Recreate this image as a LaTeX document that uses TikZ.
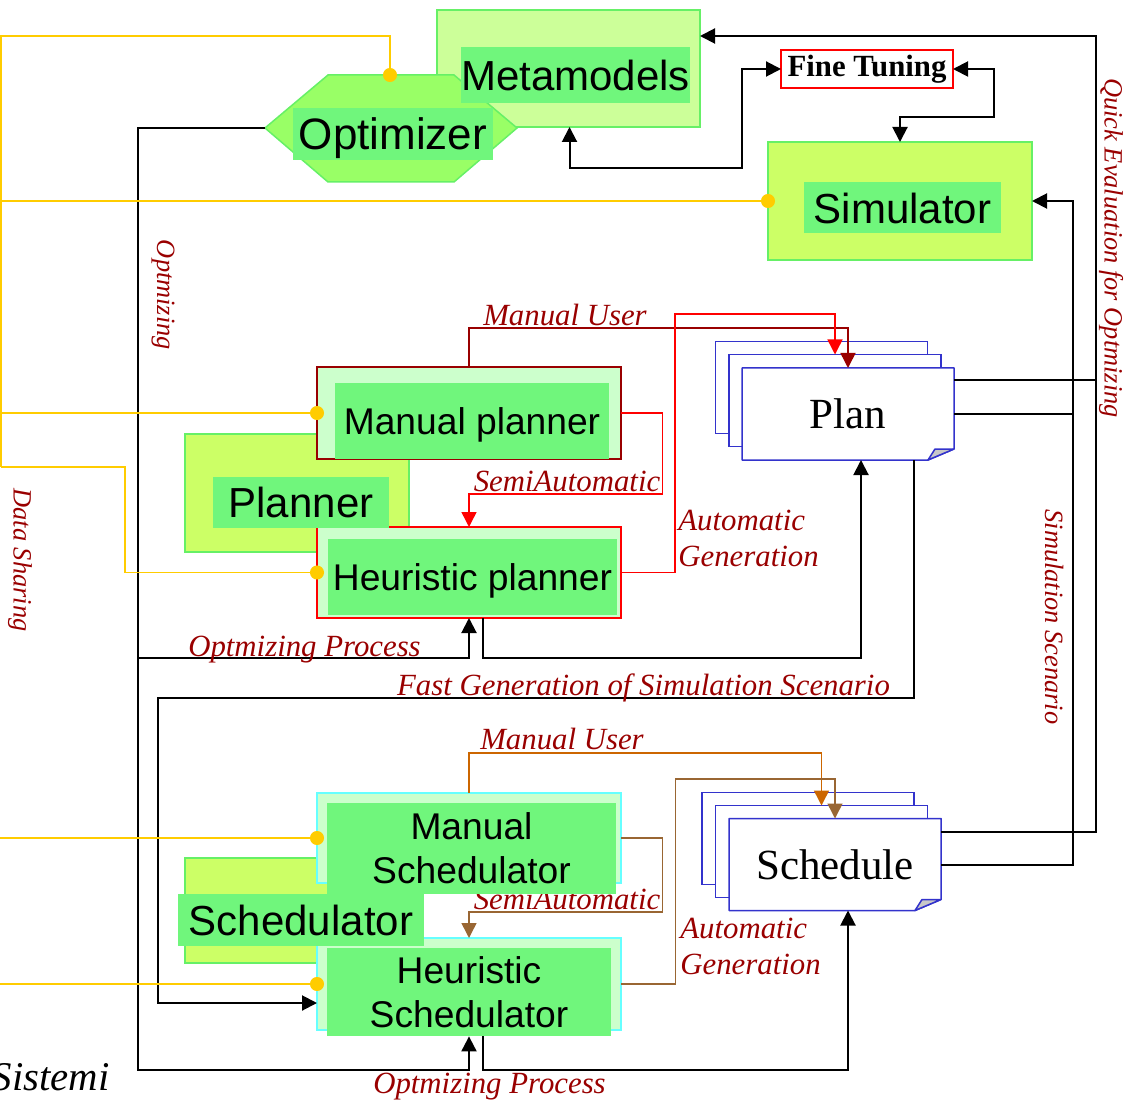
\documentclass[tikz,border=0pt]{standalone}
\usepackage{fontspec}
\setmainfont{Liberation Serif}
\newfontfamily\arialfont{Liberation Sans}
\usetikzlibrary{arrows.meta,positioning}

\definecolor{verdechiaro}{RGB}{204,255,153}
\definecolor{giallverde}{RGB}{204,255,102}
\definecolor{verdeesag}{RGB}{153,255,102}
\definecolor{verdetag}{RGB}{112,246,124}
\definecolor{menta}{RGB}{204,255,204}
\definecolor{bordo}{RGB}{102,240,102}
\definecolor{ciano}{RGB}{102,255,255}
\definecolor{giallo}{RGB}{255,204,0}
\definecolor{rossoscuro}{RGB}{153,0,0}
\definecolor{rosso}{RGB}{255,0,0}
\definecolor{docblu}{RGB}{51,51,204}
\definecolor{arancio}{RGB}{204,102,0}
\definecolor{marrone}{RGB}{153,102,51}
\definecolor{grigio}{RGB}{200,200,200}

\begin{document}
\begin{tikzpicture}[x=0.5pt,y=-0.5pt,>={Triangle[length=7.5pt,width=7.5pt]}]
  \tikzstyle{box}=[draw=bordo,line width=0.75pt,inner sep=0pt,outer sep=0pt]
  \tikzstyle{tag}=[fill=verdetag,inner sep=0pt,align=center,text depth=0pt,font=\arialfont\fontsize{21}{24}\selectfont]
  \tikzstyle{tagp}=[tag,font=\arialfont\fontsize{18.6}{22}\selectfont]
  \tikzstyle{sheet}=[draw=docblu,fill=white,line width=0.75pt,minimum width=106pt,minimum height=46pt,inner sep=0pt,outer sep=0pt,font=\fontsize{21.5}{24}\selectfont]
  \tikzstyle{docline}=[draw=docblu,line width=0.75pt,line join=round]
  \tikzstyle{lab}=[text=rossoscuro,inner sep=1pt,font=\itshape\fontsize{15.4}{18}\selectfont]
  \tikzstyle{vlab}=[lab,rotate=-90,font=\itshape\fontsize{13.2}{15}\selectfont]
  \tikzstyle{flow}=[line width=1pt,->]
  \tikzstyle{cflow}=[line width=0.75pt,->]
  \tikzstyle{share}=[draw=giallo,line width=0.75pt,-{Circle[length=7pt]},shorten >=-3.5pt]

  \useasboundingbox (0,0) rectangle (1124,1101);

  % metamodels, optimizer, simulator
  \node[box,fill=verdechiaro,minimum width=131.5pt,minimum height=58.5pt] (meta) at (568.5,68.5) {};
  \draw[draw=bordo,line width=0.75pt,fill=verdeesag] (265,128) -- (328,75) -- (454,75) -- (517,128) -- (454,182) -- (328,182) -- cycle;
  \coordinate (optW) at (265,128);
  \coordinate (optN) at (390,75);
  \node[tag,minimum width=114.5pt,minimum height=28pt] (metatag) at (575.5,75) {Metamodels};
  \node[tag,minimum width=100pt,minimum height=26pt,font=\arialfont\fontsize{22}{25}\selectfont] (opt) at (393,134) {Optimizer};
  \node[box,draw=rosso,fill=white,minimum width=86pt,minimum height=19pt,font=\bfseries\fontsize{15.4}{18}\selectfont] (fine) at (867,69) {Fine Tuning};
  \node[box,fill=giallverde,minimum width=132pt,minimum height=59pt] (sim) at (900,201) {};
  \node[tag,minimum width=98.5pt,minimum height=25.5pt] (simtag) at (902.5,208) {Simulator};

  % planner
  \node[box,fill=giallverde,minimum width=112pt,minimum height=59pt] (pln) at (297,493) {};
  \node[box,draw=rossoscuro,fill=menta,minimum width=152pt,minimum height=46pt] (mplan) at (469,413) {};
  \node[tagp,minimum width=137pt,minimum height=38pt] (mplantag) at (472,421) {Manual planner};
  \node[box,draw=rosso,fill=menta,minimum width=152pt,minimum height=45.5pt] (hplan) at (469,572.5) {};
  \node[tagp,minimum width=144.5pt,minimum height=38pt] (hplantag) at (472.5,577) {Heuristic planner};
  \node[tag,minimum width=88pt,minimum height=25.5pt] (plntag) at (301,502.5) {Planner};

  % schedulator
  \node[box,fill=giallverde,minimum width=112pt,minimum height=52.5pt] (schr) at (297,910.5) {};
  \node[lab,above] (lsa2) at (567,912) {SemiAutomatic};
  \node[box,draw=ciano,fill=menta,minimum width=152pt,minimum height=45pt] (msch) at (469,838) {};
  \node[tagp,minimum width=144.5pt,minimum height=45.5pt] (mschtag) at (471.5,848.5) {Manual\\Schedulator};
  \node[box,draw=ciano,fill=menta,minimum width=152pt,minimum height=46pt] (hsch) at (469,984) {};
  \node[tagp,minimum width=142pt,minimum height=44pt] (hschtag) at (469,992) {Heuristic\\Schedulator};
  \node[tag,minimum width=123pt,minimum height=26pt] (schrtag) at (301,920) {Schedulator};

  % document stacks
  \node[sheet] (plan3) at (821.5,387.5) {};
  \node[sheet] (plan2) at (835,400.5) {};
  \node[sheet,draw=none] (plan) at (848,414) {Plan};
  \draw[docline] (plan.north west) -- (plan.north east) -- ([yshift=5.5pt]plan.south east) -- ([xshift=-13pt]plan.south east) -- (plan.south west) -- cycle;
  \filldraw[docline,fill=grigio] ([xshift=-13pt]plan.south east) -- ([xshift=-9.5pt,yshift=5.5pt]plan.south east) -- ([yshift=5.5pt]plan.south east) -- cycle;
  \node[sheet] (sched3) at (808,838.5) {};
  \node[sheet] (sched2) at (821.5,851.5) {};
  \node[sheet,draw=none] (sched) at (835,864.5) {Schedule};
  \draw[docline] (sched.north west) -- (sched.north east) -- ([yshift=5.5pt]sched.south east) -- ([xshift=-13pt]sched.south east) -- (sched.south west) -- cycle;
  \filldraw[docline,fill=grigio] ([xshift=-13pt]sched.south east) -- ([xshift=-9.5pt,yshift=5.5pt]sched.south east) -- ([yshift=5.5pt]sched.south east) -- cycle;

  % black flows
  \draw[flow] (optW) -| (138,658) -| (hplan.south);
  \draw[flow] (optW) -| (138,1070) -| (hschtag.south);
  \draw[flow] ([xshift=7pt]hplan.south) -- ++(0,40) -| ([xshift=6.5pt]plan.south);
  \draw[flow] ([xshift=33pt]plan.south) |- (158,698) |- ([yshift=-9.5pt]hsch.west);
  \draw[flow] ([xshift=7pt]hschtag.south) -- ++(0,34) -| ([xshift=6.5pt]sched.south);
  \draw[flow,<->] ([xshift=0.5pt]meta.south) |- (742,168) |- (fine.west);
  \draw[flow,<->] (fine.east) -| (994,117) -| (sim.north);
  \draw[flow] ([yshift=17pt]plan.east) -| (1096,36) -- ([yshift=16.25pt]meta.east);
  \draw[line width=1pt] ([yshift=16.25pt]sched.east) -| (1096,380);
  \draw[flow] (plan.east) -| (1073,201) -- (sim.east);
  \draw[line width=1pt] (sched.east) -| (1073,414);

  % coloured flows
  \draw[cflow,rossoscuro] (mplan.north) -- ++(0,-39) -| (plan.north);
  \draw[cflow,rosso] (mplan.east) -| (662.5,494) -| (hplan.north);
  \draw[cflow,rosso] (hplan.east) -| (675,314) -| (plan2.north);
  \draw[cflow,arancio] (msch.north) -- ++(0,-40) -| (sched2.north);
  \draw[cflow,marrone] (msch.east) -| (662.5,912) -| (hsch.north);
  \draw[cflow,marrone] (hsch.east) -| (675.5,779) -| (sched.north);

  % data sharing
  \draw[share] (1,467) -- (1,36) -| (optN);
  \draw[share] (1,201) -- (sim.west);
  \draw[share] (1,413) -- (mplan.west);
  \draw[share] (1,467) -- (125,467) |- (hplan.west);
  \draw[share] (0,838) -- (msch.west);
  \draw[share] (0,984) -- (hsch.west);

  % labels
  \node[lab,above] (lmu1) at (565,328) {Manual User};
  \node[lab,above] (lsa1) at (567,494) {SemiAutomatic};
  \node[lab,anchor=north west,align=left] (lag1) at (676,508) {Automatic\\Generation};
  \node[lab,above] (lmu2) at (562,752) {Manual User};
  \node[lab,anchor=north west,align=left] (lag2) at (678,916) {Automatic\\Generation};
  \node[lab,anchor=base] (lop1) at (304.5,656) {Optmizing Process};
  \node[lab,anchor=base] (lop2) at (489.5,1093) {Optmizing Process};
  \node[lab,anchor=base] (lfg) at (643.5,695) {Fast Generation of Simulation Scenario};
  \node[vlab] (lopt) at (163,295) {Optmizing};
  \node[vlab] (lds) at (20,560) {Data Sharing};
  \node[vlab] (lqe) at (1111,248) {Quick Evaluation for Optmizing};
  \node[vlab] (lss) at (1054,617) {Simulation Scenario};
  \node[anchor=base east,inner sep=0pt,font=\itshape\fontsize{20.4}{24}\selectfont] (sistemi) at (110,1090) {Sistemi};
\end{tikzpicture}
\end{document}
